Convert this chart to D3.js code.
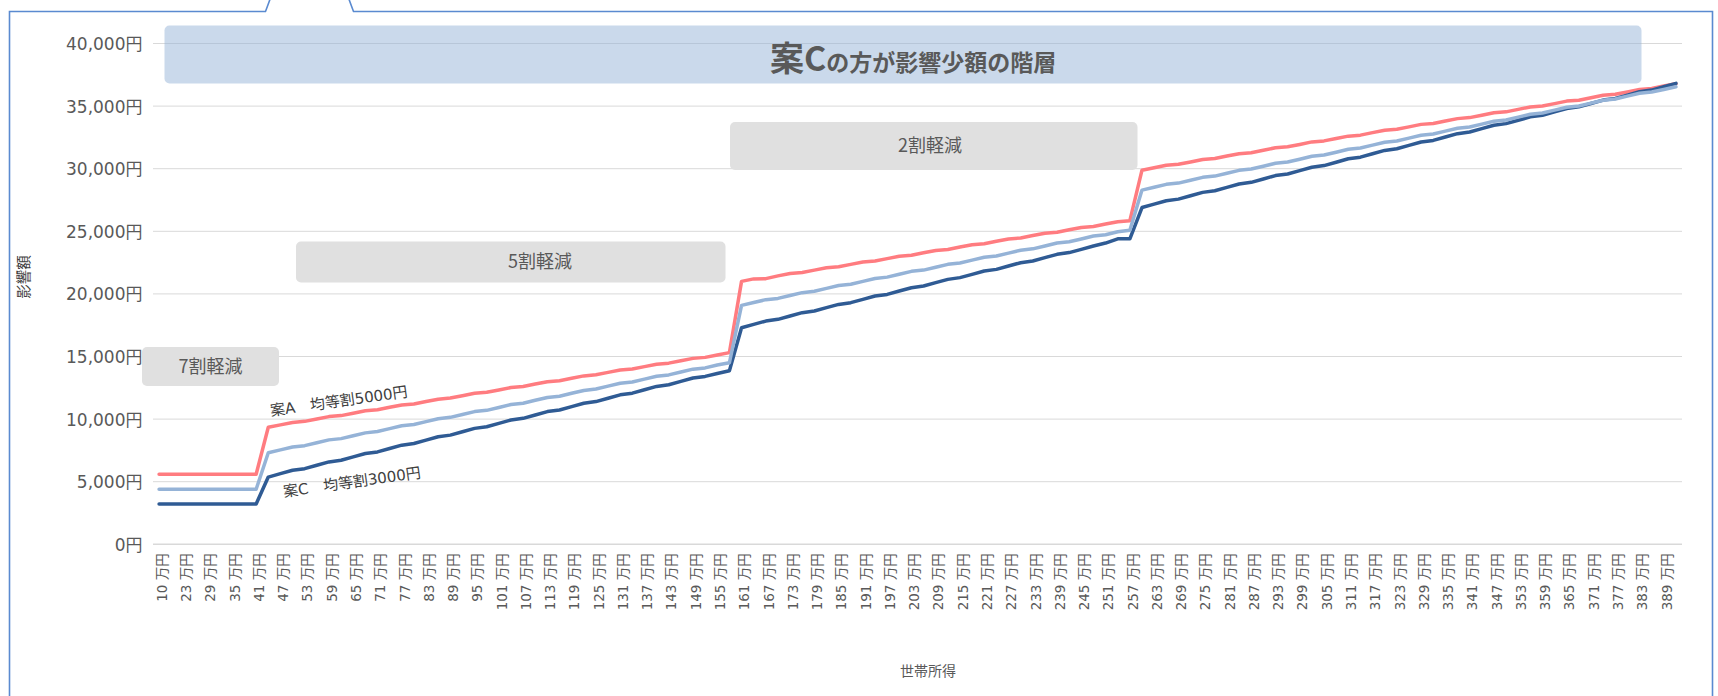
<!DOCTYPE html>
<html><head><meta charset="utf-8">
<script src="https://cdn.jsdelivr.net/npm/d3@7"></script>
<style>
body{margin:0;background:#fff;overflow:hidden}
text{font-family:"Noto Sans CJK JP","Noto Sans",sans-serif}
</style>
</head><body>
<svg id="chart" width="1718" height="696"></svg>
<script>
// ---- data ----
const categories = [10,20,23,26,29,32,35,38,41,44,47,50,53,56,59,62,65,68,71,74,77,80,83,86,89,92,95,98,101,104,107,110,113,116,119,122,125,128,131,134,137,140,143,146,149,152,155,158,161,164,167,170,173,176,179,182,185,188,191,194,197,200,203,206,209,212,215,218,221,224,227,230,233,236,239,242,245,248,251,254,257,260,263,266,269,272,275,278,281,284,287,290,293,296,299,302,305,308,311,314,317,320,323,326,329,332,335,338,341,344,347,350,353,356,359,362,365,368,371,374,377,380,383,386,389,392];

const seriesA = [5600,5600,5600,5600,5600,5600,5600,5600,5600,
9350,9540,9730,9820,10010,10200,10280,10470,10660,10750,10940,11130,11210,11400,11590,11680,11870,12060,12140,12330,12520,12610,12800,12990,13070,13260,13450,13540,13730,13920,14000,14190,14380,14470,14660,14850,14930,15120,15310,
21000,21200,21220,21440,21630,21710,21900,22090,22170,22360,22550,22630,22820,23010,23090,23280,23470,23550,23740,23930,24010,24200,24390,24470,24660,24850,24930,25120,25310,25390,25580,25770,25850,
29880,30080,30270,30350,30540,30740,30820,31010,31200,31280,31480,31670,31750,31940,32140,32220,32410,32600,32680,32880,33070,33150,33340,33540,33610,33810,34000,34080,34270,34470,34540,34740,34930,35010,35200,35400,35470,35670,35860,35940,36130,36330,36400,36600,36790];

const seriesB = [4400,4400,4400,4400,4400,4400,4400,4400,4400,
7310,7540,7770,7880,8110,8340,8440,8670,8900,9010,9240,9470,9570,9800,10030,10140,10370,10600,10700,10930,11160,11270,11500,11730,11830,12060,12290,12400,12630,12860,12960,13190,13420,13530,13760,13990,14090,14320,14500,
19080,19310,19540,19640,19870,20100,20210,20440,20670,20770,21000,21230,21340,21570,21800,21900,22130,22360,22470,22700,22930,23030,23260,23490,23600,23830,24060,24160,24390,24620,24730,24960,25080,
28290,28520,28750,28850,29080,29310,29410,29640,29870,29970,30200,30430,30530,30760,30990,31090,31320,31550,31650,31880,32110,32210,32440,32670,32770,33000,33230,33330,33560,33790,33890,34120,34350,34450,34680,34910,35010,35240,35470,35570,35800,36030,36130,36330,36540];

const seriesC = [3220,3220,3220,3220,3220,3220,3220,3220,3220,
5370,5640,5910,6040,6310,6580,6710,6980,7250,7380,7650,7920,8050,8320,8590,8720,8990,9260,9390,9660,9930,10060,10330,10600,10730,11000,11270,11400,11670,11940,12070,12340,12610,12740,13010,13280,13410,13640,13860,
17300,17570,17830,17970,18230,18500,18630,18900,19160,19300,19560,19830,19960,20230,20490,20630,20900,21160,21300,21560,21830,21960,22230,22490,22630,22900,23160,23300,23560,23830,24060,24400,24400,
26900,27170,27440,27570,27840,28110,28240,28510,28780,28910,29180,29450,29580,29850,30120,30250,30520,30790,30920,31190,31460,31590,31860,32130,32260,32530,32800,32930,33200,33470,33600,33870,34140,34270,34540,34810,34940,35210,35480,35610,35880,36150,36280,36550,36820];

const yTicks = [0,5000,10000,15000,20000,25000,30000,35000,40000];

const seriesNames = ["案A　均等割5000円", "現行", "案C　均等割3000円"];
const zoneLabels = ["7割軽減", "5割軽減", "2割軽減"];
const bannerBig = "案C";
const bannerSmall = "の方が影響少額の階層";
const xTitle = "世帯所得";
const yTitle = "影響額";

// ---- layout ----
const svg = d3.select("#chart");
const plotL = 153, plotR = 1682, plotT = 43.5, plotB = 544.3;
const x = d3.scaleBand().domain(categories).range([plotL, plotR]).padding(0);
const cx = c => x(c) + x.bandwidth() / 2;
const y = d3.scaleLinear().domain([0, 40000]).range([plotB, plotT]);
const textCol = "#595959";
const mixFont = '"DejaVu Sans","Noto Sans CJK JP",sans-serif';

// frame (callout box)
svg.append("path")
  .attr("d", "M9.5,700 V11.5 H265.5 L270.5,-2 M348.5,-2 L353.5,11.5 H1712.5 V700")
  .attr("fill", "none").attr("stroke", "#5a8ad0").attr("stroke-width", 1.6);

// gridlines
svg.append("g").selectAll("line").data(yTicks.filter(d => d > 0)).join("line")
  .attr("x1", plotL).attr("x2", plotR)
  .attr("y1", d => y(d)).attr("y2", d => y(d))
  .attr("stroke", "#d9d9d9").attr("stroke-width", 1);

// y axis labels
const yAxis = d3.axisLeft(y).tickValues(yTicks).tickSize(0).tickPadding(0)
  .tickFormat(d => d3.format(",")(d) + "円");
const yg = svg.append("g").attr("transform", `translate(142.5,0)`).call(yAxis);
yg.select(".domain").remove();
yg.selectAll("text").attr("fill", textCol).style("font-size", "17px")
  .style("font-family", mixFont).attr("dy", "0.35em");

// x axis line
svg.append("line").attr("x1", plotL).attr("x2", plotR)
  .attr("y1", y(0)).attr("y2", y(0))
  .attr("stroke", "#d9d9d9").attr("stroke-width", 1.5);

// x axis labels (every other)
const xAxis = d3.axisBottom(x).tickSize(0).tickPadding(0)
  .tickValues(categories.filter((d, i) => i % 2 === 0))
  .tickFormat(d => d + " 万円");
const xg = svg.append("g").attr("transform", `translate(0,${plotB})`).call(xAxis);
xg.select(".domain").remove();
xg.selectAll("text")
  .attr("transform", "translate(3,9) rotate(-90)")
  .attr("x", 0).attr("y", 0).attr("dy", "0.35em")
  .attr("text-anchor", "end")
  .attr("fill", textCol).style("font-size", "13.5px")
  .style("font-family", mixFont);

// zone boxes
function box(x0, y0, x1, y1, fill, op) {
  svg.append("rect").attr("x", x0).attr("y", y0).attr("width", x1 - x0).attr("height", y1 - y0)
    .attr("rx", 5).attr("fill", fill).attr("fill-opacity", op);
}
box(142, 347, 279, 386, "#e0e0e0", 1);
box(296, 241.5, 725.5, 282.5, "#e0e0e0", 1);
box(730, 122, 1137.5, 170, "#e0e0e0", 1);
svg.append("text").attr("x", 210.5).attr("y", 366.5).attr("dy", "0.35em").attr("text-anchor", "middle")
  .attr("fill", textCol).style("font-size", "18px").text(zoneLabels[0]);
svg.append("text").attr("x", 540).attr("y", 262).attr("dy", "0.35em").attr("text-anchor", "middle")
  .attr("fill", textCol).style("font-size", "18px").text(zoneLabels[1]);
svg.append("text").attr("x", 930).attr("y", 146).attr("dy", "0.35em").attr("text-anchor", "middle")
  .attr("fill", textCol).style("font-size", "18px").text(zoneLabels[2]);

// banner
box(164.5, 25.5, 1641.5, 83.5, "#95b3d7", 0.5);
const bt = svg.append("text").attr("x", 770).attr("y", 70.5).attr("fill", textCol)
  .style("font-weight", "bold");
bt.append("tspan").style("font-size", "34px").text(bannerBig);
bt.append("tspan").style("font-size", "23px").text(bannerSmall);

// lines
const line = d3.line().x((d, i) => cx(categories[i])).y(d => y(d));
const drawOrder = [[seriesA, "#ff7c80"], [seriesC, "#2f5b94"], [seriesB, "#95b3d7"]];
drawOrder.forEach(([s, col]) => {
  svg.append("path").datum(s).attr("d", line).attr("fill", "none")
    .attr("stroke", col).attr("stroke-width", 3.5)
    .attr("stroke-linejoin", "round").attr("stroke-linecap", "round");
});

// series labels
svg.append("text").attr("transform", "translate(271,416) rotate(-8)")
  .attr("fill", "#404040").style("font-size", "15px").style("font-family", mixFont).text(seriesNames[0]);
svg.append("text").attr("transform", "translate(284,497) rotate(-8)")
  .attr("fill", "#404040").style("font-size", "15px").style("font-family", mixFont).text(seriesNames[2]);

// axis titles
svg.append("text").attr("x", 928).attr("y", 671).attr("dy", "0.35em").attr("text-anchor", "middle")
  .attr("fill", textCol).style("font-size", "14px").text(xTitle);
svg.append("text").attr("transform", "translate(24,277) rotate(-90)").attr("dy", "0.35em")
  .attr("text-anchor", "middle").attr("fill", "#404040").style("font-size", "14.5px").text(yTitle);
</script>
</body></html>
